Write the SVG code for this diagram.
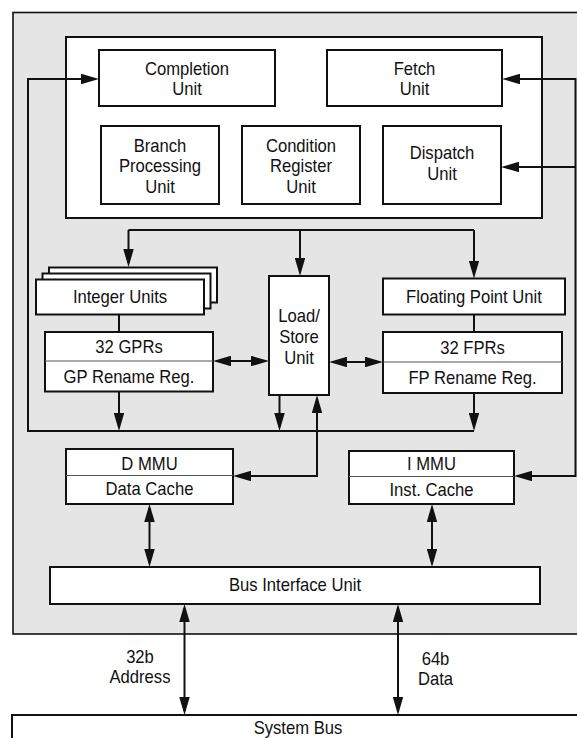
<svg xmlns="http://www.w3.org/2000/svg" width="577" height="738" viewBox="0 0 577 738">
<style>
.box{fill:#fff;stroke:#111;stroke-width:2}
.bg{fill:#e5e5e5;stroke:#111;stroke-width:1.6}
.div{stroke:#555;stroke-width:1.2}
.ln{fill:none;stroke:#111;stroke-width:2}
.t{font-family:"Liberation Sans",Arial,sans-serif;font-size:19px;fill:#111;text-anchor:middle;transform-box:fill-box;transform-origin:center;transform:scaleX(0.875)}
</style>
<defs>
<marker id="ah" viewBox="0 0 18 10.5" refX="14" refY="5.25" markerWidth="18" markerHeight="10.5" markerUnits="userSpaceOnUse" orient="auto-start-reverse"><path d="M0,0 L18,5.25 L0,10.5 z" fill="#111"/></marker>
</defs>
<rect class="bg" x="13" y="12.5" width="580" height="621.5"/>
<g id="core"><rect class="box" x="66" y="37" width="476" height="181"/></g>
<g id="completion"><rect class="box" x="99" y="50" width="176" height="56"/><text class="t"><tspan x="187" y="75">Completion</tspan><tspan x="187" y="95">Unit</tspan></text></g>
<g id="fetch"><rect class="box" x="327" y="50" width="175" height="56"/><text class="t"><tspan x="414.5" y="75">Fetch</tspan><tspan x="414.5" y="95">Unit</tspan></text></g>
<g id="branch"><rect class="box" x="101" y="126" width="118" height="78"/><text class="t"><tspan x="160" y="152">Branch</tspan><tspan x="160" y="172.3">Processing</tspan><tspan x="160" y="192.6">Unit</tspan></text></g>
<g id="condition"><rect class="box" x="242" y="126" width="118" height="78"/><text class="t"><tspan x="301" y="152">Condition</tspan><tspan x="301" y="172.3">Register</tspan><tspan x="301" y="192.6">Unit</tspan></text></g>
<g id="dispatch"><rect class="box" x="383" y="126" width="118" height="78"/><text class="t"><tspan x="442" y="159">Dispatch</tspan><tspan x="442" y="180">Unit</tspan></text></g>
<g id="integer"><rect class="box" x="49" y="267.5" width="168" height="35"/><rect class="box" x="42.5" y="273.5" width="168" height="35"/><rect class="box" x="36" y="279.5" width="168" height="35"/><text class="t" x="120" y="303">Integer Units</text></g>
<g id="fpu"><rect class="box" x="383" y="278.5" width="182" height="36"/><text class="t" x="474" y="303">Floating Point Unit</text></g>
<g id="loadstore"><rect class="box" x="269" y="276" width="60" height="119"/><text class="t"><tspan x="299" y="322">Load/</tspan><tspan x="299" y="343">Store</tspan><tspan x="299" y="364">Unit</tspan></text></g>
<g id="gpr"><rect class="box" x="45" y="332" width="168" height="59.5"/><line class="div" x1="45" y1="361" x2="213" y2="361"/><text class="t" x="129" y="353">32 GPRs</text><text class="t" x="129" y="383">GP Rename Reg.</text></g>
<g id="fpr"><rect class="box" x="383" y="332" width="179" height="61"/><line class="div" x1="383" y1="362" x2="562" y2="362"/><text class="t" x="472.5" y="354">32 FPRs</text><text class="t" x="472.5" y="384">FP Rename Reg.</text></g>
<g id="dmmu"><rect class="box" x="66" y="449" width="167" height="55"/><line class="div" x1="66" y1="475.5" x2="233" y2="475.5"/><text class="t" x="149.5" y="470">D MMU</text><text class="t" x="149.5" y="495.5">Data Cache</text></g>
<g id="immu"><rect class="box" x="349" y="451" width="165" height="53"/><line class="div" x1="349" y1="476.5" x2="514" y2="476.5"/><text class="t" x="431.5" y="470.5">I MMU</text><text class="t" x="431.5" y="496.5">Inst. Cache</text></g>
<g id="biu"><rect class="box" x="50" y="567" width="490" height="37"/><text class="t" x="295" y="591.5">Bus Interface Unit</text></g>
<g id="sysbus"><rect class="box" x="12" y="715" width="580" height="40"/><text class="t" x="298" y="734">System Bus</text></g>
<g id="labels"><text class="t"><tspan x="140" y="663">32b</tspan><tspan x="140" y="683.5">Address</tspan></text><text class="t"><tspan x="435.5" y="665">64b</tspan><tspan x="435.5" y="685.5">Data</tspan></text></g>
<g id="connectors">
<path class="ln" d="M474,431 H28 V79 H95" marker-end="url(#ah)"/>
<path class="ln" d="M119,392 V427" marker-end="url(#ah)"/>
<path class="ln" d="M279.5,395 V427" marker-end="url(#ah)"/>
<path class="ln" d="M474,393 V427" marker-end="url(#ah)"/>
<path class="ln" d="M128.5,230 H474"/>
<path class="ln" d="M128.5,230 V263" marker-end="url(#ah)"/>
<path class="ln" d="M300,230 V272" marker-end="url(#ah)"/>
<path class="ln" d="M474,230 V274.5" marker-end="url(#ah)"/>
<path class="ln" d="M119,314.5 V332"/>
<path class="ln" d="M474,314.5 V332"/>
<path class="ln" d="M217,361 H265" marker-start="url(#ah)" marker-end="url(#ah)"/>
<path class="ln" d="M333,362 H379" marker-start="url(#ah)" marker-end="url(#ah)"/>
<path class="ln" d="M237,476 H317 V399" marker-start="url(#ah)" marker-end="url(#ah)"/>
<path class="ln" d="M506,79 H575.5 V476 H518" marker-start="url(#ah)" marker-end="url(#ah)"/>
<path class="ln" d="M575.5,167 H505" marker-end="url(#ah)"/>
<path class="ln" d="M149.5,508 V563" marker-start="url(#ah)" marker-end="url(#ah)"/>
<path class="ln" d="M432,508 V563" marker-start="url(#ah)" marker-end="url(#ah)"/>
<path class="ln" d="M184.5,608 V711" marker-start="url(#ah)" marker-end="url(#ah)"/>
<path class="ln" d="M398,608 V711" marker-start="url(#ah)" marker-end="url(#ah)"/>
</g>
</svg>
